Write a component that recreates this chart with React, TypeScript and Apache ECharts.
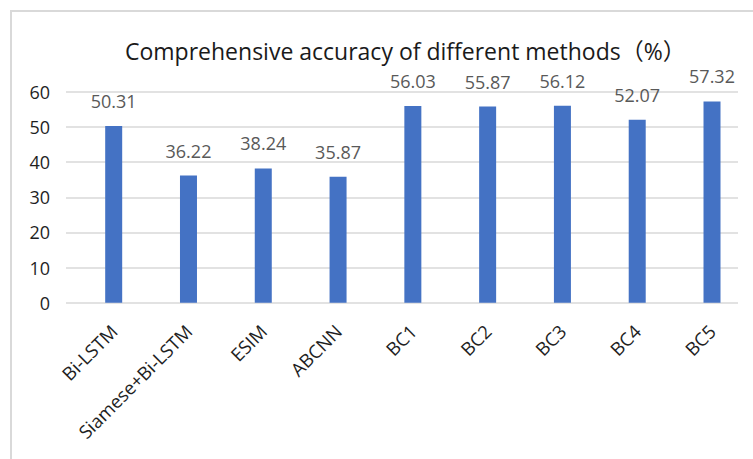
import React, { useEffect, useRef } from "react";
import * as echarts from "echarts";

const categories = ["Bi-LSTM", "Siamese+Bi-LSTM", "ESIM", "ABCNN", "BC1", "BC2", "BC3", "BC4", "BC5"];
const accuracy = [50.31, 36.22, 38.24, 35.87, 56.03, 55.87, 56.12, 52.07, 57.32];
const yTicks = [0, 10, 20, 30, 40, 50, 60];
const titleText = "Comprehensive accuracy of different methods（%）";

const FONT = "'Open Sans', 'Noto Sans CJK SC', sans-serif";

export default function App() {
  const ref = useRef<HTMLDivElement>(null);
  useEffect(() => {
    if (!ref.current) return;
    const chart = echarts.init(ref.current, undefined, { renderer: "svg" });
    const yMin = yTicks[0];
    const yMax = yTicks[yTicks.length - 1];
    const yStep = yTicks[1] - yTicks[0];
    chart.setOption({
      animation: false,
      backgroundColor: "#ffffff",
      title: {
        text: titleText,
        left: 120,
        top: 34,
        textStyle: { fontFamily: FONT, fontSize: 23, fontWeight: "normal", color: "#1a1a1a" },
      },
      graphic: [
        {
          type: "rect",
          shape: { x: 11, y: 11, width: 800, height: 500 },
          style: { fill: "none", stroke: "#d9d9d9", lineWidth: 2 },
          silent: true,
          z: -1,
        },
      ],
      grid: [
        { left: 66, right: 15, top: 92, bottom: 156.3 },
        { left: 76.3, right: 3.6, top: 92, bottom: 156.3 },
      ],
      xAxis: [
        { type: "category", gridIndex: 0, data: categories, show: false },
        {
          type: "category",
          gridIndex: 1,
          data: categories,
          axisLine: { show: false },
          axisTick: { show: false },
          axisLabel: {
            rotate: 45,
            interval: 0,
            margin: 25,
            fontFamily: FONT,
            fontSize: 18.5,
            color: "#1f1f1f",
          },
        },
      ],
      yAxis: [
        {
          type: "value",
          gridIndex: 0,
          min: yMin,
          max: yMax,
          interval: yStep,
          axisLine: { show: false },
          axisTick: { show: false },
          axisLabel: { margin: 16, fontFamily: FONT, fontSize: 18, color: "#1f1f1f" },
          splitLine: { lineStyle: { color: "#d9d9d9", width: 1.5 } },
        },
        {
          type: "value",
          gridIndex: 1,
          min: yMin,
          max: yMax,
          interval: yStep,
          show: false,
          splitLine: { show: false },
        },
      ],
      series: [
        {
          type: "bar",
          xAxisIndex: 1,
          yAxisIndex: 1,
          data: accuracy,
          barWidth: 17,
          itemStyle: { color: "#4472C4" },
          label: {
            show: true,
            position: "top",
            distance: 16,
            fontFamily: FONT,
            fontSize: 18,
            color: "#595959",
            formatter: (p: any) => p.value.toFixed(2),
          },
        },
      ],
    });
    return () => chart.dispose();
  }, []);
  return <div ref={ref} style={{ position: "fixed", left: 0, top: 0, width: 753, height: 459 }} />;
}
